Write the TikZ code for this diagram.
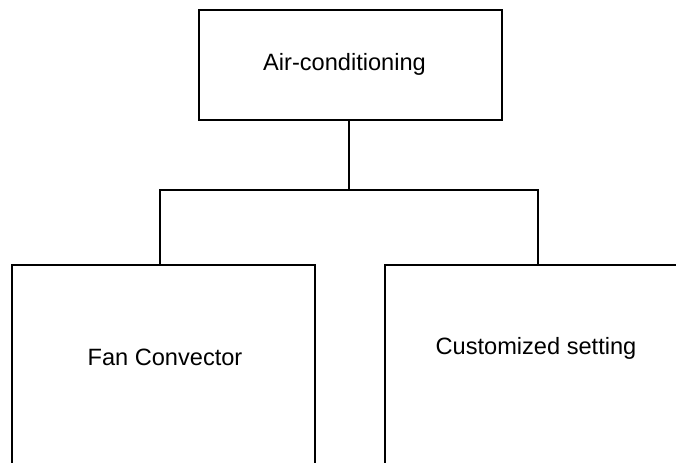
\documentclass[tikz,border=0pt]{standalone}
\usepackage{fontspec}
\setmainfont{Liberation Sans}
\begin{document}
\begin{tikzpicture}[x=0.75pt,y=-0.75pt,
  box/.style={draw=black, rectangle, inner sep=0pt, line width=1.2pt},
  lbl/.style={font=\fontsize{17.7}{21}\selectfont, inner sep=0pt, anchor=base},
  conn/.style={draw=black, line width=1.2pt, line join=miter}]
\useasboundingbox (0,0) rectangle (676,462);
\clip (0,0) rectangle (676,462);
\node[box, minimum width={303*0.75pt}, minimum height={110*0.75pt}] (top) at (350.5,65) {};
\node[box, minimum width={303*0.75pt}, minimum height={240*0.75pt}] (left) at (163.5,385) {};
\node[box, minimum width={305*0.75pt}, minimum height={240*0.75pt}] (right) at (537.5,385) {};
\node[lbl] (topT) at (344.5,70) {Air-conditioning};
\node[lbl] (leftT) at (165,365) {Fan Convector};
\node[lbl] (rightT) at (536,354) {Customized setting};
\coordinate (j) at (349,190);
\coordinate (jl) at (160,190);
\coordinate (jr) at (538,190);
\draw[conn] (top.south -| j) -- (j);
\draw[conn] (jl |- left.north) -- (jl) -- (jr) -- (jr |- right.north);
\end{tikzpicture}
\end{document}
